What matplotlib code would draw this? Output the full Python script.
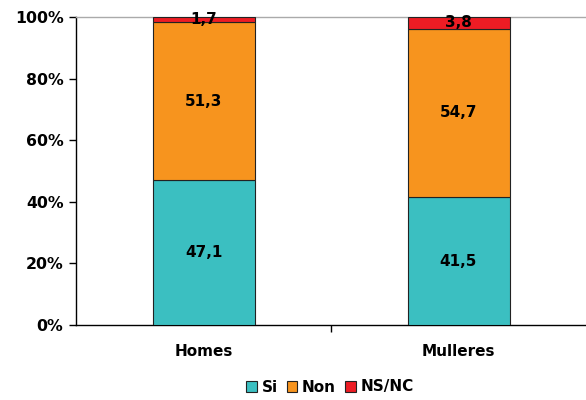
import matplotlib
matplotlib.use("Agg")
import matplotlib.pyplot as plt
import numpy as np

categories = ["Homes", "Mulleres"]
series_names = ["Si", "Non", "NS/NC"]
si = [47.1, 41.5]
non = [51.3, 54.7]
nsnc = [1.7, 3.8]
colors = ["#3BBFC1", "#F7941E", "#ED1C24"]
yticks = [0, 20, 40, 60, 80, 100]
ytick_labels = ["0%", "20%", "40%", "60%", "80%", "100%"]

plt.rcParams['font.family'] = ['DejaVu Sans']
plt.rcParams['font.weight'] = 'bold'

fig = plt.figure(figsize=(5.86, 4.0), dpi=100)
ax = fig.add_axes([76/586, 1-325/400, (586-76)/586, (325-17)/400])

data = np.array([si, non, nsnc])
totals = data.sum(axis=0)
pct = data / totals * 100
x = np.arange(len(categories))
bottom = np.zeros(len(categories))
for i, name in enumerate(series_names):
    ax.bar(x, pct[i], bottom=bottom, width=0.4, color=colors[i],
           edgecolor="#222222", linewidth=0.8, label=name, zorder=3)
    for j in range(len(categories)):
        ax.text(x[j], bottom[j] + pct[i][j] / 2, f"{data[i][j]:.1f}".replace(".", ","),
                ha="center", va="center", fontsize=11, fontweight="bold", zorder=4)
    bottom += pct[i]

ax.set_xlim(-0.5, 1.5)
ax.set_ylim(0, 100)
ax.set_yticks(yticks)
ax.set_yticklabels(ytick_labels, fontsize=11.3, fontweight="bold")
ax.set_xticks([0.5], minor=False)
ax.set_xticklabels([""])
ax.set_xticks(x, minor=True)
ax.set_xticklabels(categories, minor=True, fontsize=11, fontweight="bold")
ax.tick_params(axis="x", which="minor", length=0, pad=14)
ax.tick_params(axis="x", which="major", length=5, direction="out", width=1)
ax.tick_params(axis="y", length=5, direction="out", width=1, pad=4)

for s in ["left", "bottom"]:
    ax.spines[s].set_color("black")
    ax.spines[s].set_linewidth(1)
ax.spines["top"].set_color("#aaaaaa")
ax.spines["top"].set_linewidth(1)
ax.spines["right"].set_visible(False)

leg = fig.legend(loc="center", bbox_to_anchor=(330/586, 1-387/400), ncol=3,
                 frameon=False, handlelength=0.7, handleheight=0.7,
                 handletextpad=0.3, columnspacing=0.6, prop={"weight": "bold", "size": 11})
for h in leg.legend_handles:
    h.set_edgecolor("#222222")
    h.set_linewidth(0.8)

fig.savefig("out.png", dpi=100)
